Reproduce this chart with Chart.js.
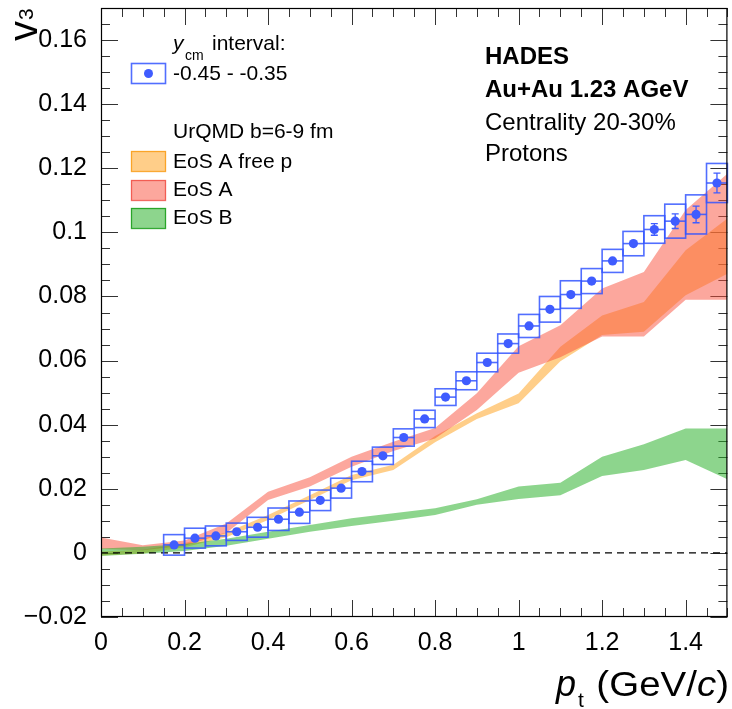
<!DOCTYPE html>
<html>
<head>
<meta charset="utf-8">
<title>HADES v3 protons</title>
<script src="https://cdn.jsdelivr.net/npm/chart.js@4.4.0/dist/chart.umd.min.js"></script>
<style>
  html, body { margin: 0; padding: 0; background: #fff; }
  #wrap { width: 732px; height: 709px; }
</style>
</head>
<body>
<div id="wrap"><canvas id="v3Chart" width="732" height="709"></canvas></div>
<script>
// measured v3 of protons, y_cm -0.45 .. -0.35
const ptPoints = [0.175, 0.225, 0.275, 0.325, 0.375, 0.425, 0.475, 0.525, 0.575, 0.625, 0.675, 0.725, 0.775,
  0.825, 0.875, 0.925, 0.975, 1.025, 1.075, 1.125, 1.175, 1.225, 1.275, 1.325, 1.375, 1.425, 1.475];
const v3Values = [0.0025, 0.0046, 0.0053, 0.0066, 0.0080, 0.0105, 0.0127, 0.0164, 0.0202, 0.0254, 0.0303, 0.0360, 0.0418,
  0.0486, 0.0537, 0.0594, 0.0653, 0.0708, 0.0760, 0.0806, 0.0848, 0.0911, 0.0965, 0.1009, 0.1035, 0.1056, 0.1154];
const v3Stat = [0.0002, 0.0002, 0.0002, 0.0002, 0.0002, 0.0002, 0.0002, 0.0003, 0.0003, 0.0003, 0.0003, 0.0003, 0.0004,
  0.0004, 0.0004, 0.0005, 0.0005, 0.0006, 0.0006, 0.0007, 0.0008, 0.0010, 0.0012, 0.0018, 0.0023, 0.0026, 0.0031];
const v3Sys = [0.0032, 0.0031, 0.0031, 0.0027, 0.0031, 0.0035, 0.0035, 0.0032, 0.0031, 0.0032, 0.0027, 0.0027, 0.0027,
  0.0026, 0.0028, 0.0029, 0.0030, 0.0036, 0.0040, 0.0043, 0.0039, 0.0036, 0.0038, 0.0043, 0.0053, 0.0061, 0.0061];
const ptBinHalf = 0.025;

// UrQMD b=6-9 fm bands
const bandPt = [0, 0.1, 0.2, 0.3, 0.4, 0.5, 0.6, 0.7, 0.8, 0.9, 1.0, 1.1, 1.2, 1.3, 1.4, 1.5];
const eosAFreePLow  = [-0.0008, -0.0002, 0.0018, 0.0049, 0.0103, 0.0165, 0.0227, 0.0259, 0.0345, 0.0418, 0.0467, 0.0598, 0.0680, 0.0690, 0.0804, 0.0871];
const eosAFreePHigh = [ 0.0004,  0.0010, 0.0031, 0.0064, 0.0118, 0.0180, 0.0243, 0.0275, 0.0365, 0.0436, 0.0497, 0.0643, 0.0741, 0.0783, 0.0944, 0.1043];
const eosALow  = [0.0012, 0.0008, 0.0022, 0.0062, 0.0165, 0.0207, 0.0269, 0.0318, 0.0357, 0.0446, 0.0562, 0.0610, 0.0675, 0.0675, 0.0790, 0.0790];
const eosAHigh = [0.0048, 0.0024, 0.0039, 0.0092, 0.0191, 0.0236, 0.0300, 0.0347, 0.0390, 0.0498, 0.0645, 0.0710, 0.0825, 0.0876, 0.1070, 0.1183];
const eosBLow  = [-0.0010, -0.0003, 0.0006, 0.0022, 0.0044, 0.0066, 0.0084, 0.0100, 0.0118, 0.0150, 0.0168, 0.0180, 0.0240, 0.0259, 0.0290, 0.0230];
const eosBHigh = [ 0.0014,  0.0019, 0.0028, 0.0044, 0.0066, 0.0087, 0.0108, 0.0124, 0.0139, 0.0167, 0.0207, 0.0219, 0.0300, 0.0339, 0.0388, 0.0388];

const zeroLinePt = [0, 1.5];

const xTickVals = [0, 0.2, 0.4, 0.6, 0.8, 1.0, 1.2, 1.4];
const xTickLabels = ["0", "0.2", "0.4", "0.6", "0.8", "1", "1.2", "1.4"];
const yTickVals = [-0.02, 0, 0.02, 0.04, 0.06, 0.08, 0.1, 0.12, 0.14, 0.16];
const yTickLabels = ["\u22120.02", "0", "0.02", "0.04", "0.06", "0.08", "0.1", "0.12", "0.14", "0.16"];

const FONT = "'Liberation Sans', Arial, Helvetica, sans-serif";
const BLUE = "#3f5cff";
const BOX_BLUE = "rgba(50, 85, 255, 0.85)";
const ORANGE = "rgba(255, 165, 40, 0.55)";
const RED = "rgba(250, 80, 60, 0.5)";
const GREEN = "rgba(40, 175, 40, 0.53)";

const xy = (xs, ys) => xs.map((x, i) => ({ x: x, y: ys[i] }));

function band(high, low, color, order) {
  return [
    { data: xy(bandPt, high), fill: "+1", backgroundColor: color, borderWidth: 0, pointRadius: 0, order: order },
    { data: xy(bandPt, low), fill: false, borderWidth: 0, pointRadius: 0, order: order },
  ];
}

// ROOT-like frame with inside ticks on all four sides
const rootFrame = {
  id: "rootFrame",
  beforeDatasetsDraw(chart) {
    const { ctx, chartArea: a, scales } = chart;
    ctx.save();
    ctx.strokeStyle = "#333";
    ctx.lineWidth = 1;
    ctx.beginPath();
    for (let i = 0; i <= 30; i++) {
      const px = Math.round(scales.x.getPixelForValue(i * 0.05)) + 0.5;
      const len = i % 4 === 0 ? 17 : 9;
      ctx.moveTo(px, a.bottom); ctx.lineTo(px, a.bottom - len);
      ctx.moveTo(px, a.top); ctx.lineTo(px, a.top + len);
    }
    for (let i = 0; i <= 38; i++) {
      const py = Math.round(scales.y.getPixelForValue(-0.02 + i * 0.005)) + 0.5;
      const len = i % 4 === 0 ? 17 : 9;
      ctx.moveTo(a.left, py); ctx.lineTo(a.left + len, py);
      ctx.moveTo(a.right, py); ctx.lineTo(a.right - len, py);
    }
    ctx.stroke();
    ctx.restore();
  },
  afterDatasetsDraw(chart) {
    const { ctx, chartArea: a } = chart;
    ctx.save();
    ctx.strokeStyle = "#000";
    ctx.lineWidth = 1.2;
    ctx.strokeRect(a.left + 0.5, a.top + 0.5, a.right - a.left - 1, a.bottom - a.top - 1);
    ctx.restore();
  },
};

// systematic boxes + error bars, drawn just under the markers
const errorBoxes = {
  id: "errorBoxes",
  beforeDatasetDraw(chart, args) {
    if (args.index !== 0) return;
    const { ctx, scales: { x, y } } = chart;
    ctx.save();
    ctx.strokeStyle = BOX_BLUE;
    ctx.lineWidth = 1.6;
    ptPoints.forEach((pt, i) => {
      const x0 = x.getPixelForValue(pt - ptBinHalf);
      const x1 = x.getPixelForValue(pt + ptBinHalf);
      const yc = y.getPixelForValue(v3Values[i]);
      const yTop = y.getPixelForValue(v3Values[i] + v3Sys[i]);
      const yBot = y.getPixelForValue(v3Values[i] - v3Sys[i]);
      ctx.strokeRect(x0, yTop, x1 - x0, yBot - yTop);
      ctx.beginPath();
      ctx.moveTo(x0, yc); ctx.lineTo(x1, yc);
      ctx.stroke();
    });
    ctx.strokeStyle = BLUE;
    ctx.lineWidth = 1.3;
    ptPoints.forEach((pt, i) => {
      const xc = x.getPixelForValue(pt);
      const yTop = y.getPixelForValue(v3Values[i] + v3Stat[i]);
      const yBot = y.getPixelForValue(v3Values[i] - v3Stat[i]);
      if (yBot - yTop < 9) return;
      ctx.beginPath();
      ctx.moveTo(xc, yTop); ctx.lineTo(xc, yBot);
      ctx.moveTo(xc - 3.5, yTop); ctx.lineTo(xc + 3.5, yTop);
      ctx.moveTo(xc - 3.5, yBot); ctx.lineTo(xc + 3.5, yBot);
      ctx.stroke();
    });
    ctx.restore();
  },
};

// axis titles, legend and labels
const annotations = {
  id: "annotations",
  afterDraw(chart) {
    const { ctx } = chart;
    ctx.save();
    ctx.fillStyle = "#000";
    ctx.textBaseline = "alphabetic";
    ctx.textAlign = "left";

    // y title v_3 (rotated)
    ctx.save();
    ctx.translate(37, 41);
    ctx.rotate(-Math.PI / 2);
    ctx.font = "40px " + FONT;
    ctx.fillText("v", 0, 0);
    const vw = ctx.measureText("v").width;
    ctx.font = "21px " + FONT;
    ctx.fillText("3", vw + 1, -4);
    ctx.restore();

    // x title p_t (GeV/c), right aligned at frame edge, slightly widened like the original
    ctx.save();
    ctx.translate(729, 696);
    ctx.scale(1.1, 1);
    const big = "35px " + FONT, bigIt = "italic 35px " + FONT;
    ctx.font = big;
    const wOpen = ctx.measureText("(GeV/").width;
    const wClose = ctx.measureText(")").width;
    ctx.font = bigIt;
    const wc = ctx.measureText("c").width;
    let xr = -wClose;
    ctx.font = big; ctx.fillText(")", xr, 0);
    xr -= wc;
    ctx.font = bigIt; ctx.fillText("c", xr, 0);
    xr -= wOpen;
    ctx.font = big; ctx.fillText("(GeV/", xr, 0);
    ctx.restore();
    ctx.font = "italic 36px " + FONT; ctx.fillText("p", 556, 696);
    ctx.font = "21px " + FONT; ctx.fillText("t", 578, 707);

    // legend
    ctx.font = "italic 21px " + FONT;
    ctx.fillText("y", 173, 50);
    ctx.font = "14px " + FONT;
    ctx.fillText("cm", 185, 60);
    ctx.font = "21px " + FONT;
    ctx.fillText("interval:", 212, 50);
    ctx.fillText("-0.45 - -0.35", 173, 80);
    ctx.fillText("UrQMD b=6-9 fm", 173, 138);
    ctx.fillText("EoS A free p", 173, 168);
    ctx.fillText("EoS A", 173, 196);
    ctx.fillText("EoS B", 173, 224);

    ctx.strokeStyle = BOX_BLUE;
    ctx.lineWidth = 1.6;
    ctx.strokeRect(131.5, 63.5, 34, 20);
    ctx.fillStyle = BLUE;
    ctx.beginPath();
    ctx.arc(148.5, 73.5, 4.5, 0, Math.PI * 2);
    ctx.fill();

    const swatches = [
      [151, ORANGE, "rgba(250, 160, 30, 0.9)"],
      [180, RED, "rgba(240, 80, 70, 0.85)"],
      [208, GREEN, "rgba(30, 160, 30, 0.9)"],
    ];
    ctx.lineWidth = 1.3;
    swatches.forEach(([top, fill, stroke]) => {
      ctx.fillStyle = fill;
      ctx.fillRect(131, top, 35, 20);
      ctx.strokeStyle = stroke;
      ctx.strokeRect(131.5, top + 0.5, 34, 20);
    });

    // experiment labels
    ctx.fillStyle = "#000";
    ctx.font = "bold 24px " + FONT;
    ctx.fillText("HADES", 485, 64);
    ctx.fillText("Au+Au 1.23 AGeV", 485, 97);
    ctx.font = "24px " + FONT;
    ctx.fillText("Centrality 20-30%", 485, 130);
    ctx.fillText("Protons", 485, 161);
    ctx.restore();
  },
};

const tickFont = { family: FONT, size: 25 };

new Chart(document.getElementById("v3Chart"), {
  type: "line",
  data: {
    datasets: [
      {
        data: xy(ptPoints, v3Values),
        showLine: false,
        pointRadius: 4.6,
        pointBorderWidth: 0,
        pointBackgroundColor: BLUE,
        order: 1,
      },
      {
        data: xy(zeroLinePt, [0, 0]),
        borderColor: "#000",
        borderWidth: 1.4,
        borderDash: [7, 5],
        pointRadius: 0,
        fill: false,
        order: 2,
      },
      ...band(eosBHigh, eosBLow, GREEN, 3),
      ...band(eosAHigh, eosALow, RED, 4),
      ...band(eosAFreePHigh, eosAFreePLow, ORANGE, 5),
    ],
  },
  options: {
    responsive: false,
    animation: false,
    layout: { padding: { top: 8, right: 3, left: 0, bottom: 0 } },
    elements: { line: { tension: 0 } },
    plugins: { legend: { display: false }, tooltip: { enabled: false } },
    scales: {
      x: {
        type: "linear",
        min: 0,
        max: 1.5,
        grid: { display: false },
        border: { display: false },
        afterBuildTicks: (s) => { s.ticks = xTickVals.map((v) => ({ value: v })); },
        afterFit: (s) => { s.height = 92; s.paddingLeft = 0; s.paddingRight = 0; },
        ticks: {
          autoSkip: false,
          maxRotation: 0,
          padding: 3,
          color: "#000",
          font: tickFont,
          callback: (v, i) => xTickLabels[i],
        },
      },
      y: {
        type: "linear",
        min: -0.02,
        max: 0.17,
        grid: { display: false },
        border: { display: false },
        afterBuildTicks: (s) => { s.ticks = yTickVals.map((v) => ({ value: v })); },
        afterFit: (s) => { s.width = 101; s.paddingTop = 0; s.paddingBottom = 0; },
        ticks: {
          autoSkip: false,
          padding: 6,
          color: "#000",
          font: tickFont,
          callback: (v, i) => yTickLabels[i],
        },
      },
    },
  },
  plugins: [rootFrame, errorBoxes, annotations],
});
</script>
</body>
</html>
